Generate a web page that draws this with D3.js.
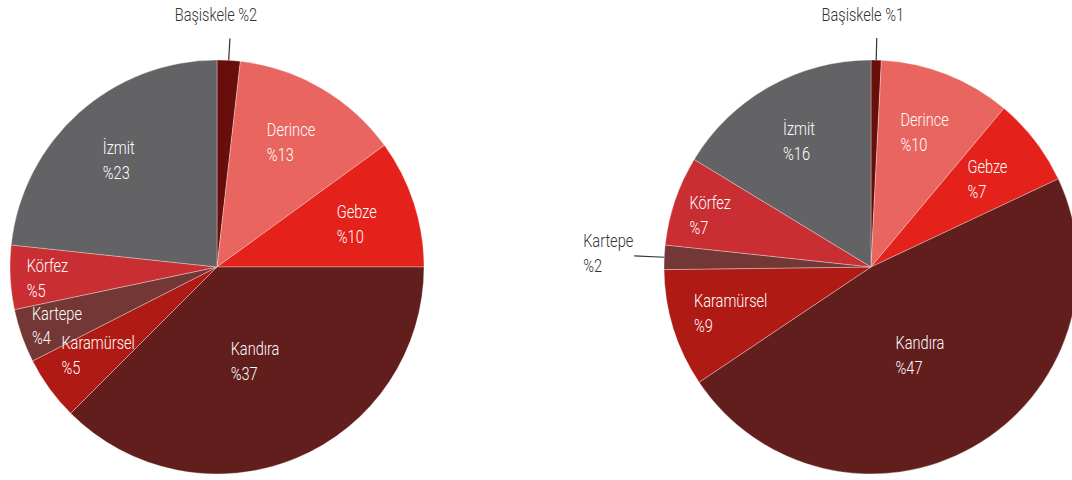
<!DOCTYPE html>
<html>
<head>
<meta charset="utf-8">
<script src="https://cdn.jsdelivr.net/npm/d3@7"></script>
<style>
  body { margin: 0; background: #fff; }
  text { font-family: "Liberation Sans Narrow", "Roboto", sans-serif; font-size: 18px; font-weight: 300; }
</style>
</head>
<body>
<div id="chart"></div>
<script>
// ---------------  DATA  ---------------
const categories = ["Başiskele", "Derince", "Gebze", "Kandıra", "Karamürsel", "Kartepe", "Körfez", "İzmit"];
const leftValues = [1.8, 13.2, 10, 37.5, 5, 4.2, 5, 23.3];
const leftLabels = ["%2", "%13", "%10", "%37", "%5", "%4", "%5", "%23"];
const rightValues = [0.8, 10.3, 6.9, 47.6, 9.2, 1.9, 7.0, 16.3];
const rightLabels = ["%1", "%10", "%7", "%47", "%9", "%2", "%7", "%16"];

// ---------------  SETTINGS  ---------------
const w = 1072, h = 480;
const radius = 207;
const cy = 267;
const squeeze = 0.81; // condensed look for the labels

const color = d3.scaleOrdinal()
  .domain(categories)
  .range(["#680f0c", "#e8665f", "#e4221b", "#611e1d", "#b01a14", "#733835", "#c92e33", "#636366"]);

const svg = d3.select("#chart").append("svg")
  .attr("width", w)
  .attr("height", h);

const pie = d3.pie().sort(null).value(d => d.value);
const arc = d3.arc().innerRadius(0).outerRadius(radius);

// label block; anchor: "middle" or "end" (relative to x)
function label(g, x, y, lines, fill, anchor, dy) {
  const lg = g.append("g").attr("transform", "translate(" + x + "," + y + ") scale(" + squeeze + ",1)");
  const t = lg.append("text").attr("fill", fill);
  lines.forEach((s, i) => t.append("tspan").attr("x", 0).attr("y", dy + i * 25).text(s));
  const tw = t.node().getBBox().width;
  t.selectAll("tspan").attr("x", anchor == "end" ? -tw : -tw / 2);
}

function drawPie(cx, values, labels) {
  const data = categories.map((c, i) => ({ name: c, value: values[i], label: labels[i] }));
  const total = d3.sum(values);
  const g = svg.append("g").attr("transform", "translate(" + cx + "," + cy + ")");

  g.selectAll("path")
    .data(pie(data))
    .enter()
    .append("path")
    .attr("d", arc)
    .attr("fill", d => color(d.data.name))
    .attr("stroke", "#fff")
    .attr("stroke-opacity", 0.45)
    .attr("stroke-width", 0.7);

  pie(data).forEach(d => {
    const frac = d.data.value / total;
    const mid = (d.startAngle + d.endAngle) / 2;
    const sx = Math.sin(mid), sy = -Math.cos(mid);

    if (frac < 0.03) {
      // small slice: leader line + outside label
      const top = Math.abs(sy) > 0.7;
      const len = top ? 22 : 30;
      const x2 = sx * (radius + len), y2 = sy * (radius + len);
      g.append("line")
        .attr("x1", sx * radius).attr("y1", sy * radius)
        .attr("x2", x2).attr("y2", y2)
        .attr("stroke", "#333")
        .attr("stroke-width", 1.2);

      if (top) {
        label(g, x2 - 14, y2 - 17, [d.data.name + " " + d.data.label], "#333", "middle", 0);
      } else {
        label(g, x2 - 1, y2, [d.data.name, d.data.label], "#333", "end", -9);
      }
      return;
    }

    // narrow slices lying on the sides get their labels pushed outwards
    let lr = radius * 0.71;
    if (frac > 0.3) lr = radius * 0.48;
    else if (frac < 0.08 && Math.abs(sx) > 0.9) lr = radius * 0.82;
    label(g, sx * lr, sy * lr, [d.data.name, d.data.label], "#fff", "middle", -4);
  });
}

drawPie(217, leftValues, leftLabels);
drawPie(871, rightValues, rightLabels);
</script>
</body>
</html>
